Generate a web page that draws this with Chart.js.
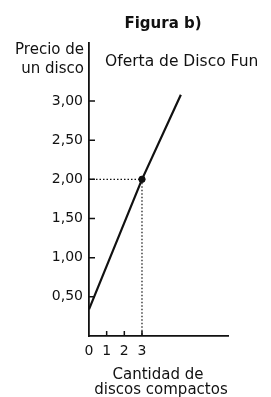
<!DOCTYPE html>
<html lang="es">
<head>
    <meta charset="UTF-8">
    <title>Figura b) - Oferta de Disco Fun</title>
    <script src="https://cdn.jsdelivr.net/npm/chart.js"></script>
    <style>
        html, body { margin: 0; padding: 0; background: #fff; }
        .chart-box { width: 271px; height: 397px; }
    </style>
</head>
<body>
    <div class="chart-box">
        <canvas id="supplyChart"></canvas>
    </div>

    <script>
        // datos
        const supplyQty = [0, 3, 5.2];
        const supplyPrice = [0.34, 2.0, 3.08];
        const pointQty = [3];
        const pointPrice = [2.0];
        const yTicks = [0.5, 1.0, 1.5, 2.0, 2.5, 3.0];
        const xTicks = [0, 1, 2, 3];
        const xInnerTicks = [1, 2, 3];

        const ink = '#111';
        const font = 'DejaVu Sans';

        const toXY = (xs, ys) => xs.map((x, i) => ({ x: x, y: ys[i] }));

        // líneas punteadas de referencia hacia los ejes
        const guideH = [{ x: 0, y: pointPrice[0] }, { x: pointQty[0], y: pointPrice[0] }];
        const guideV = [{ x: pointQty[0], y: pointPrice[0] }, { x: pointQty[0], y: 0 }];

        const extras = {
            id: 'extras',
            afterDraw(chart) {
                const c = chart.ctx;
                const xs = chart.scales.x, ys = chart.scales.y;
                const area = chart.chartArea;
                c.save();
                c.strokeStyle = ink;
                c.lineWidth = 1.5;
                // marcas hacia dentro
                c.beginPath();
                yTicks.forEach(v => {
                    const py = ys.getPixelForValue(v);
                    c.moveTo(area.left, py);
                    c.lineTo(area.left + 6, py);
                });
                xInnerTicks.forEach(v => {
                    const px = xs.getPixelForValue(v);
                    c.moveTo(px, area.bottom);
                    c.lineTo(px, area.bottom - 5);
                });
                c.stroke();

                c.fillStyle = ink;
                c.textBaseline = 'middle';
                c.font = 'bold 15px "' + font + '"';
                c.textAlign = 'center';
                c.fillText('Figura b)', 163, 24);

                c.font = '15px "' + font + '"';
                c.textAlign = 'right';
                c.fillText('Precio de', 84, 50);
                c.fillText('un disco', 84, 69);

                c.textAlign = 'left';
                c.font = '15.5px "' + font + '"';
                c.fillText('Oferta de Disco Fun', 105, 62);

                c.font = '15px "' + font + '"';
                c.textAlign = 'center';
                c.fillText('Cantidad de', 158, 375);
                c.fillText('discos compactos', 161, 390);
                c.restore();
            }
        };

        new Chart(document.getElementById('supplyChart'), {
            type: 'scatter',
            data: {
                datasets: [
                    {
                        data: guideH,
                        showLine: true,
                        borderColor: ink,
                        borderWidth: 1.2,
                        borderDash: [1.5, 2],
                        pointRadius: 0
                    },
                    {
                        data: guideV,
                        showLine: true,
                        borderColor: ink,
                        borderWidth: 1.2,
                        borderDash: [1.5, 2],
                        pointRadius: 0
                    },
                    {
                        label: 'Oferta de Disco Fun',
                        data: toXY(supplyQty, supplyPrice),
                        showLine: true,
                        borderColor: ink,
                        borderWidth: 2.2,
                        pointRadius: 0
                    },
                    {
                        data: toXY(pointQty, pointPrice),
                        backgroundColor: ink,
                        borderColor: ink,
                        pointRadius: 3.2
                    }
                ]
            },
            options: {
                responsive: true,
                maintainAspectRatio: false,
                animation: false,
                layout: { padding: { top: 43, right: 43, left: 0, bottom: 0 } },
                plugins: {
                    legend: { display: false },
                    tooltip: { enabled: false }
                },
                scales: {
                    x: {
                        type: 'linear',
                        min: 0,
                        max: 7.87,
                        afterFit: s => { s.height = 61; },
                        afterBuildTicks: s => { s.ticks = xTicks.map(v => ({ value: v })); },
                        grid: { display: true, drawOnChartArea: false, drawTicks: false },
                        border: { display: true, color: ink, width: 1.8 },
                        ticks: { color: ink, padding: 7, maxRotation: 0, font: { family: font, size: 14 } }
                    },
                    y: {
                        type: 'linear',
                        min: 0,
                        max: 3.74,
                        afterFit: s => { s.width = 89; },
                        afterBuildTicks: s => { s.ticks = yTicks.map(v => ({ value: v })); },
                        grid: { display: true, drawOnChartArea: false, drawTicks: false },
                        border: { display: true, color: ink, width: 1.8 },
                        ticks: {
                            color: ink,
                            padding: 6,
                            font: { family: font, size: 14 },
                            callback: v => v.toFixed(2).replace('.', ',')
                        }
                    }
                }
            },
            plugins: [extras]
        });
    </script>
</body>
</html>
